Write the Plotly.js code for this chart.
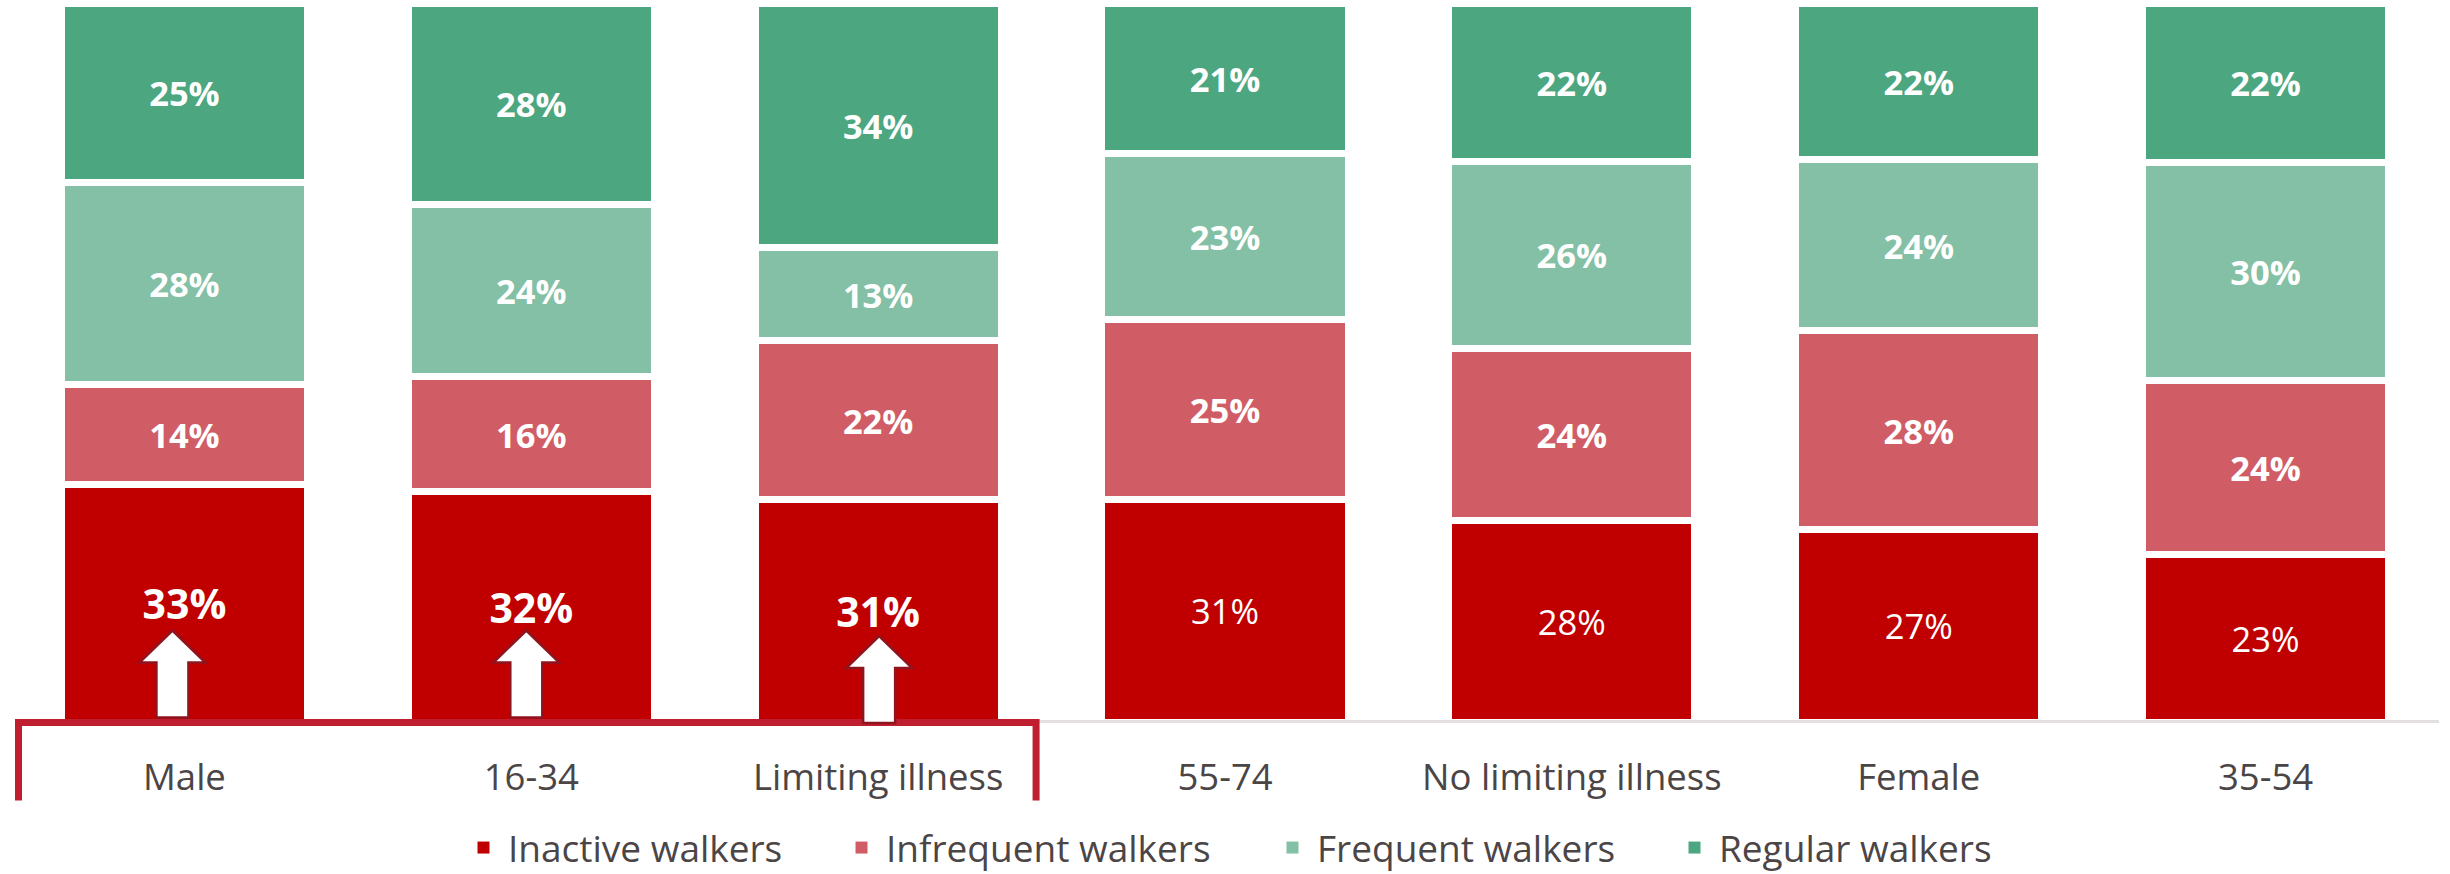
<!DOCTYPE html>
<html>
<head>
<meta charset="utf-8">
<script src="https://cdn.plot.ly/plotly-3.0.1.min.js"></script>
<style>html,body{margin:0;padding:0;background:#fff}#chart{width:2450px;height:874px}</style>
</head>
<body>
<div id="chart"></div>
<script>
// Walking frequency by demographic group, share of respondents (%)
const groups = ["Male", "16-34", "Limiting illness", "55-74", "No limiting illness", "Female", "35-54"];
const inactive = [33, 32, 31, 31, 28, 27, 23];
const infrequent = [14, 16, 22, 25, 24, 28, 24];
const frequent = [28, 24, 13, 23, 26, 24, 30];
const regular = [25, 28, 34, 21, 22, 22, 22];
const highlighted = [0, 1, 2]; // groups called out with a box and arrows

const FONT = '"Open Sans", sans-serif';
const GAP = 7;

function pct(vals, bold) {
  return vals.map((v, i) => (bold(i) ? `<b>${v}%</b>` : `${v}%`));
}
function series(name, vals, color, boldFn, sizes) {
  return {
    type: 'bar', name, x: groups, y: vals,
    showlegend: false,
    marker: {color, line: {color: '#ffffff', width: GAP}},
    width: 0.71,
    text: pct(vals, boldFn),
    textposition: 'inside', insidetextanchor: 'middle', textangle: 0,
    constraintext: 'none',
    textfont: {family: FONT, color: '#ffffff', size: sizes},
    hoverinfo: 'name+y'
  };
}
// Empty series that only supply a larger square key in the legend
function legendKey(name, color, legendId) {
  return {
    type: 'scatter', mode: 'markers', name, x: [groups[0]], y: [null],
    legend: legendId, showlegend: true, hoverinfo: 'skip',
    marker: {symbol: 'square', size: 16, color}
  };
}
const isHighlighted = i => highlighted.includes(i);
const COLORS = ['#C00000', '#D05D66', '#83C0A5', '#4CA680'];
const data = [
  series('Inactive walkers', inactive, COLORS[0], isHighlighted,
         groups.map((_, i) => isHighlighted(i) ? 41 : 34.5)),
  series('Infrequent walkers', infrequent, COLORS[1], () => true, 34.5),
  series('Frequent walkers', frequent, COLORS[2], () => true, 34.5),
  series('Regular walkers', regular, COLORS[3], () => true, 34.5),
  legendKey('Inactive walkers', COLORS[0], 'legend'),
  legendKey('Infrequent walkers', COLORS[1], 'legend2'),
  legendKey('Frequent walkers', COLORS[2], 'legend3'),
  legendKey('Regular walkers', COLORS[3], 'legend4')
];

const W = 2450, H = 874, L = 10.5, R = 10.5, T = 2.5, B = 151.5;
const px = v => (v - L) / (W - L - R);
const py = v => 1 - (v - T) / (H - T - B);

// Up-arrow outline in pixels above the axis baseline
const arrowPath = (drop, dx) => {
  const base = -drop, tip = 87 - drop, neck = 55 - drop;
  const X = v => v + dx;
  return `M ${X(-16)} ${base} L ${X(-16)} ${neck} L ${X(-33)} ${neck} L ${X(0)} ${tip} L ${X(33)} ${neck} L ${X(16)} ${neck} L ${X(16)} ${base} Z`;
};
const arrowDrops = [-4.5, -4.5, 1];
const arrowShift = [-12, -5, 1];

const shapes = [
  // Baseline rule
  {type: 'line', xref: 'paper', yref: 'paper', x0: px(1037), x1: 1, y0: py(722), y1: py(722),
   layer: 'above', line: {color: '#E4DFE0', width: 3}},
  // Open-bottomed box around the highlighted groups
  {type: 'path', xref: 'paper', yref: 'paper', layer: 'above',
   path: `M ${px(18)} ${py(801)} L ${px(18)} ${py(723)} L ${px(1036)} ${py(723)} L ${px(1036)} ${py(801)}`,
   line: {color: '#BE1E2D', width: 7}},
  ...highlighted.map(i => ({
    type: 'path', layer: 'above', xref: 'x', yref: 'paper',
    xsizemode: 'pixel', ysizemode: 'pixel', xanchor: i, yanchor: 0,
    path: arrowPath(arrowDrops[i], arrowShift[i]),
    fillcolor: '#ffffff', line: {color: '#8E1420', width: 2.5}
  }))
];

// One legend box per series, so each entry sits at its own position
const legendAt = (left) => ({
  orientation: 'h', xref: 'container', yref: 'container',
  x: left / W, xanchor: 'left', y: 1 - 848 / H, yanchor: 'middle',
  font: {family: FONT, size: 37, color: '#4B4546'},
  itemwidth: 39, itemsizing: 'constant', bgcolor: 'rgba(0,0,0,0)'
});

const layout = {
  width: W, height: H,
  margin: {l: L, r: R, t: T, b: B, pad: 0},
  paper_bgcolor: '#ffffff', plot_bgcolor: '#ffffff',
  barmode: 'stack', barnorm: 'percent',
  showlegend: true,
  legend: legendAt(459),
  legend2: legendAt(837),
  legend3: legendAt(1268),
  legend4: legendAt(1670),
  xaxis: {
    type: 'category', categoryorder: 'array', categoryarray: groups,
    range: [-0.5, 6.5], showgrid: false, zeroline: false, showline: false,
    ticks: 'outside', ticklen: 23, tickcolor: 'rgba(0,0,0,0)',
    tickfont: {family: FONT, size: 36.5, color: '#4B4546'}, automargin: false
  },
  yaxis: {range: [0, 100], visible: false, fixedrange: true},
  shapes
};

Plotly.newPlot('chart', data, layout, {displayModeBar: false, responsive: false});
</script>
</body>
</html>
